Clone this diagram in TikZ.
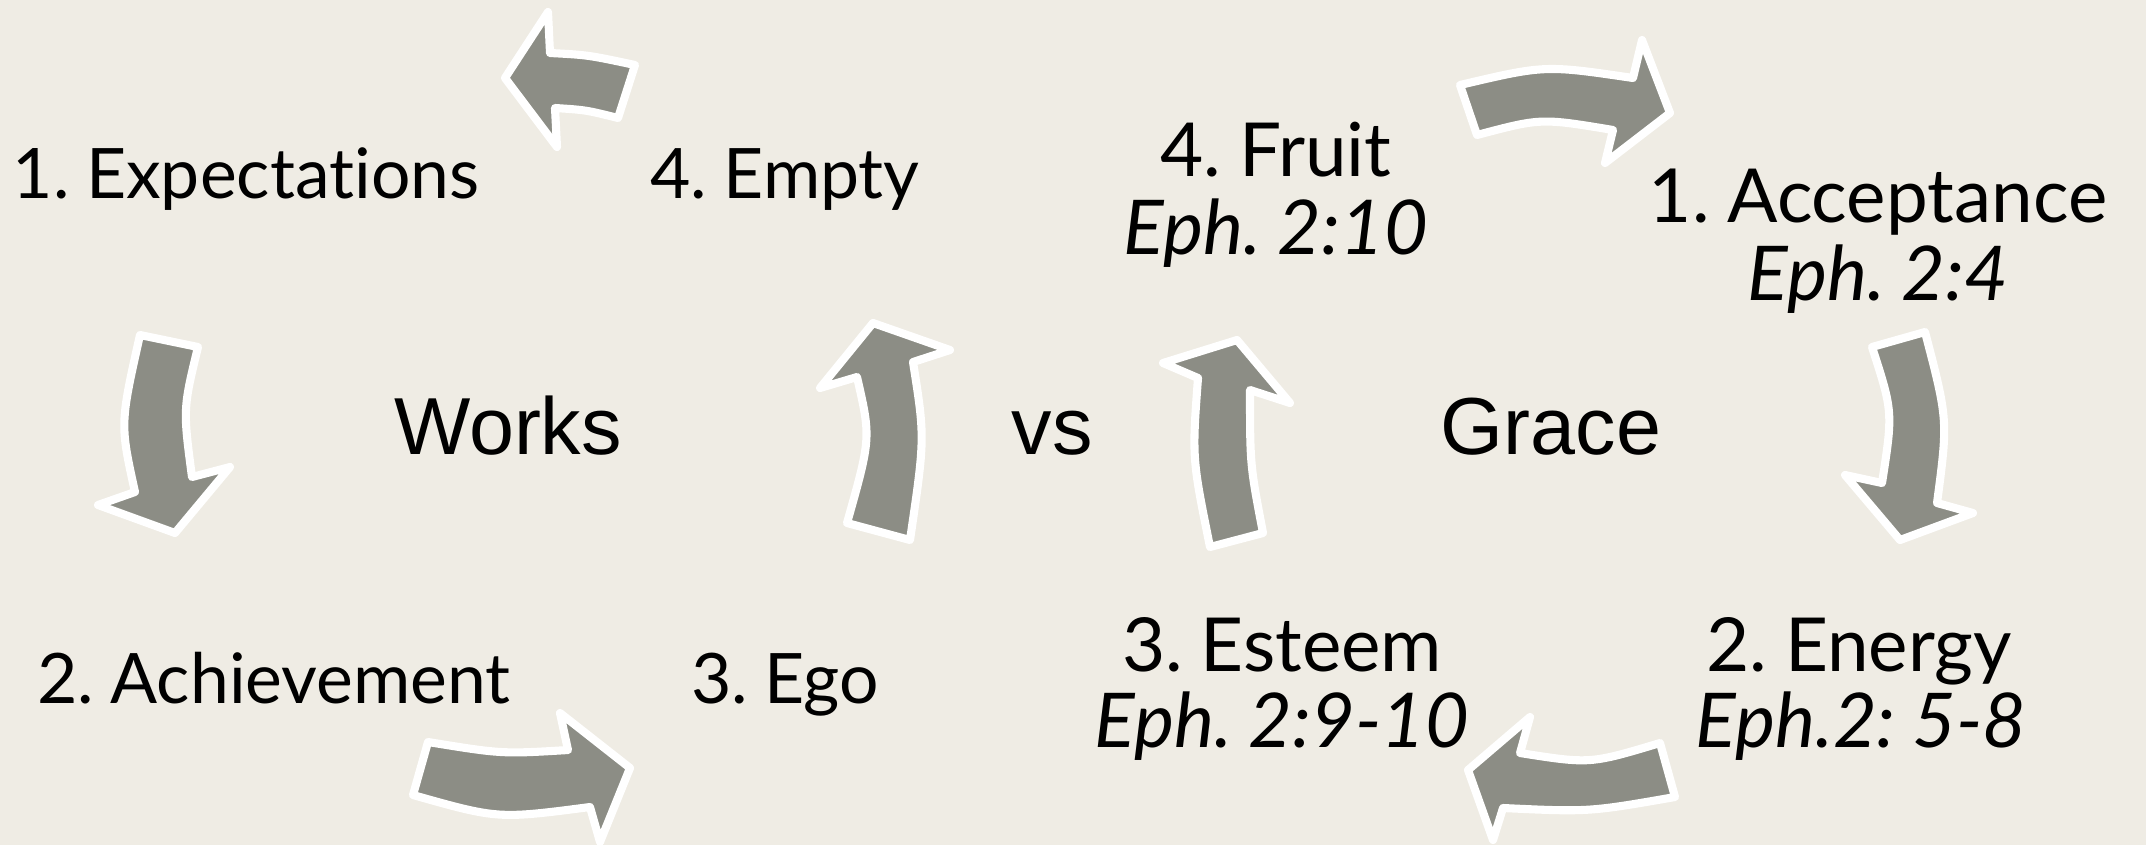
\documentclass[tikz,border=0pt]{standalone}
\usepackage{fontspec}
\setmainfont{Lato}[WordSpace=0.6,Ligatures=NoCommon]
\newfontfamily\worksfont{Liberation Sans}
\definecolor{bgcol}{RGB}{239,236,228}
\definecolor{arrowgray}{RGB}{140,141,133}
\begin{document}
\begin{tikzpicture}[x=0.01cm,y=-0.01cm,
  blockarrow/.style={fill=arrowgray,draw=white,line width=2.3pt,line join=round},
  lbl/.style={anchor=base,inner sep=0pt,font=\fontsize{19.8}{20}\selectfont},
  glbl/.style={anchor=base,inner sep=0pt,font=\fontsize{21.2}{22}\selectfont},
  ref/.style={anchor=base,inner sep=0pt,font=\fontsize{21.5}{22}\selectfont\itshape},
  big/.style={anchor=base,inner sep=0pt,font=\worksfont\fontsize{23}{24}\selectfont}]
\fill[bgcol] (0,0) rectangle (2146,845);
\useasboundingbox (0,0) rectangle (2146,845);

% Works cycle
\node[lbl] (expect) at (246,198) {1. Expectations};
\node[lbl] (empty) at (785,198) {4. Empty};
\node[lbl] (achieve) at (274,703) {2. Achievement};
\node[lbl] (ego) at (785,703) {3. Ego};
\node[big] (works) at (508,454) {Works};
\node[big] (vs) at (1052,454) {vs};
\node[big] (grace) at (1551,454) {Grace};

% Grace cycle
\node[glbl] (fruit) at (1276,176) {4. Fruit};
\node[ref] (fruitref) at (1276,254) {Eph. 2:10};
\node[glbl] (accept) at (1878,222) {1. Acceptance};
\node[ref] (acceptref) at (1878,300) {Eph. 2:4};
\node[glbl] (esteem) at (1282,671) {3. Esteem};
\node[ref] (esteemref) at (1282,747) {Eph. 2:9-10};
\node[glbl] (energy) at (1859,671) {2. Energy};
\node[ref] (energyref) at (1861,747) {Eph.2: 5-8};

% block arrows, works
\draw[blockarrow] (505,78) -- (548,12) -- (550,53) .. controls (588,55) .. (635,65)
  -- (618,118) .. controls (586,110) .. (555,108) -- (557,147) -- cycle;
\draw[blockarrow] (140,335) -- (198,347) .. controls (183,409) .. (192,477)
  -- (230,467) -- (175,533) -- (98,505) -- (135,492) .. controls (120,424) .. cycle;
\draw[blockarrow] (428,742) .. controls (502,754) .. (568,750) -- (560,713) -- (630,768)
  -- (600,842) -- (590,807) .. controls (498,819) .. (413,795) -- cycle;
\draw[blockarrow] (847,523) -- (910,540) .. controls (925,438) .. (913,362) -- (950,350)
  -- (873,323) -- (820,388) -- (857,377) .. controls (871,438) .. cycle;

% block arrows, grace
\draw[blockarrow] (1210,547) -- (1263,533) .. controls (1250,465) .. (1250,390) -- (1290,403)
  -- (1237,340) -- (1163,363) -- (1198,378) .. controls (1192,458) .. cycle;
\draw[blockarrow] (1872,347) -- (1925,332) .. controls (1948,420) .. (1937,503) -- (1973,513)
  -- (1900,540) -- (1845,475) -- (1882,483) .. controls (1893,412) .. cycle;
\draw[blockarrow] (1468,770) -- (1530,717) -- (1520,753) .. controls (1590,764) .. (1660,743)
  -- (1675,797) .. controls (1589,812) .. (1503,808) -- (1493,840) -- cycle;
\draw[blockarrow] (1460,85) .. controls (1545,65) .. (1633,78) -- (1642,40) -- (1670,113)
  -- (1605,163) -- (1613,130) .. controls (1541,118) .. (1477,135) -- cycle;
\end{tikzpicture}
\end{document}
